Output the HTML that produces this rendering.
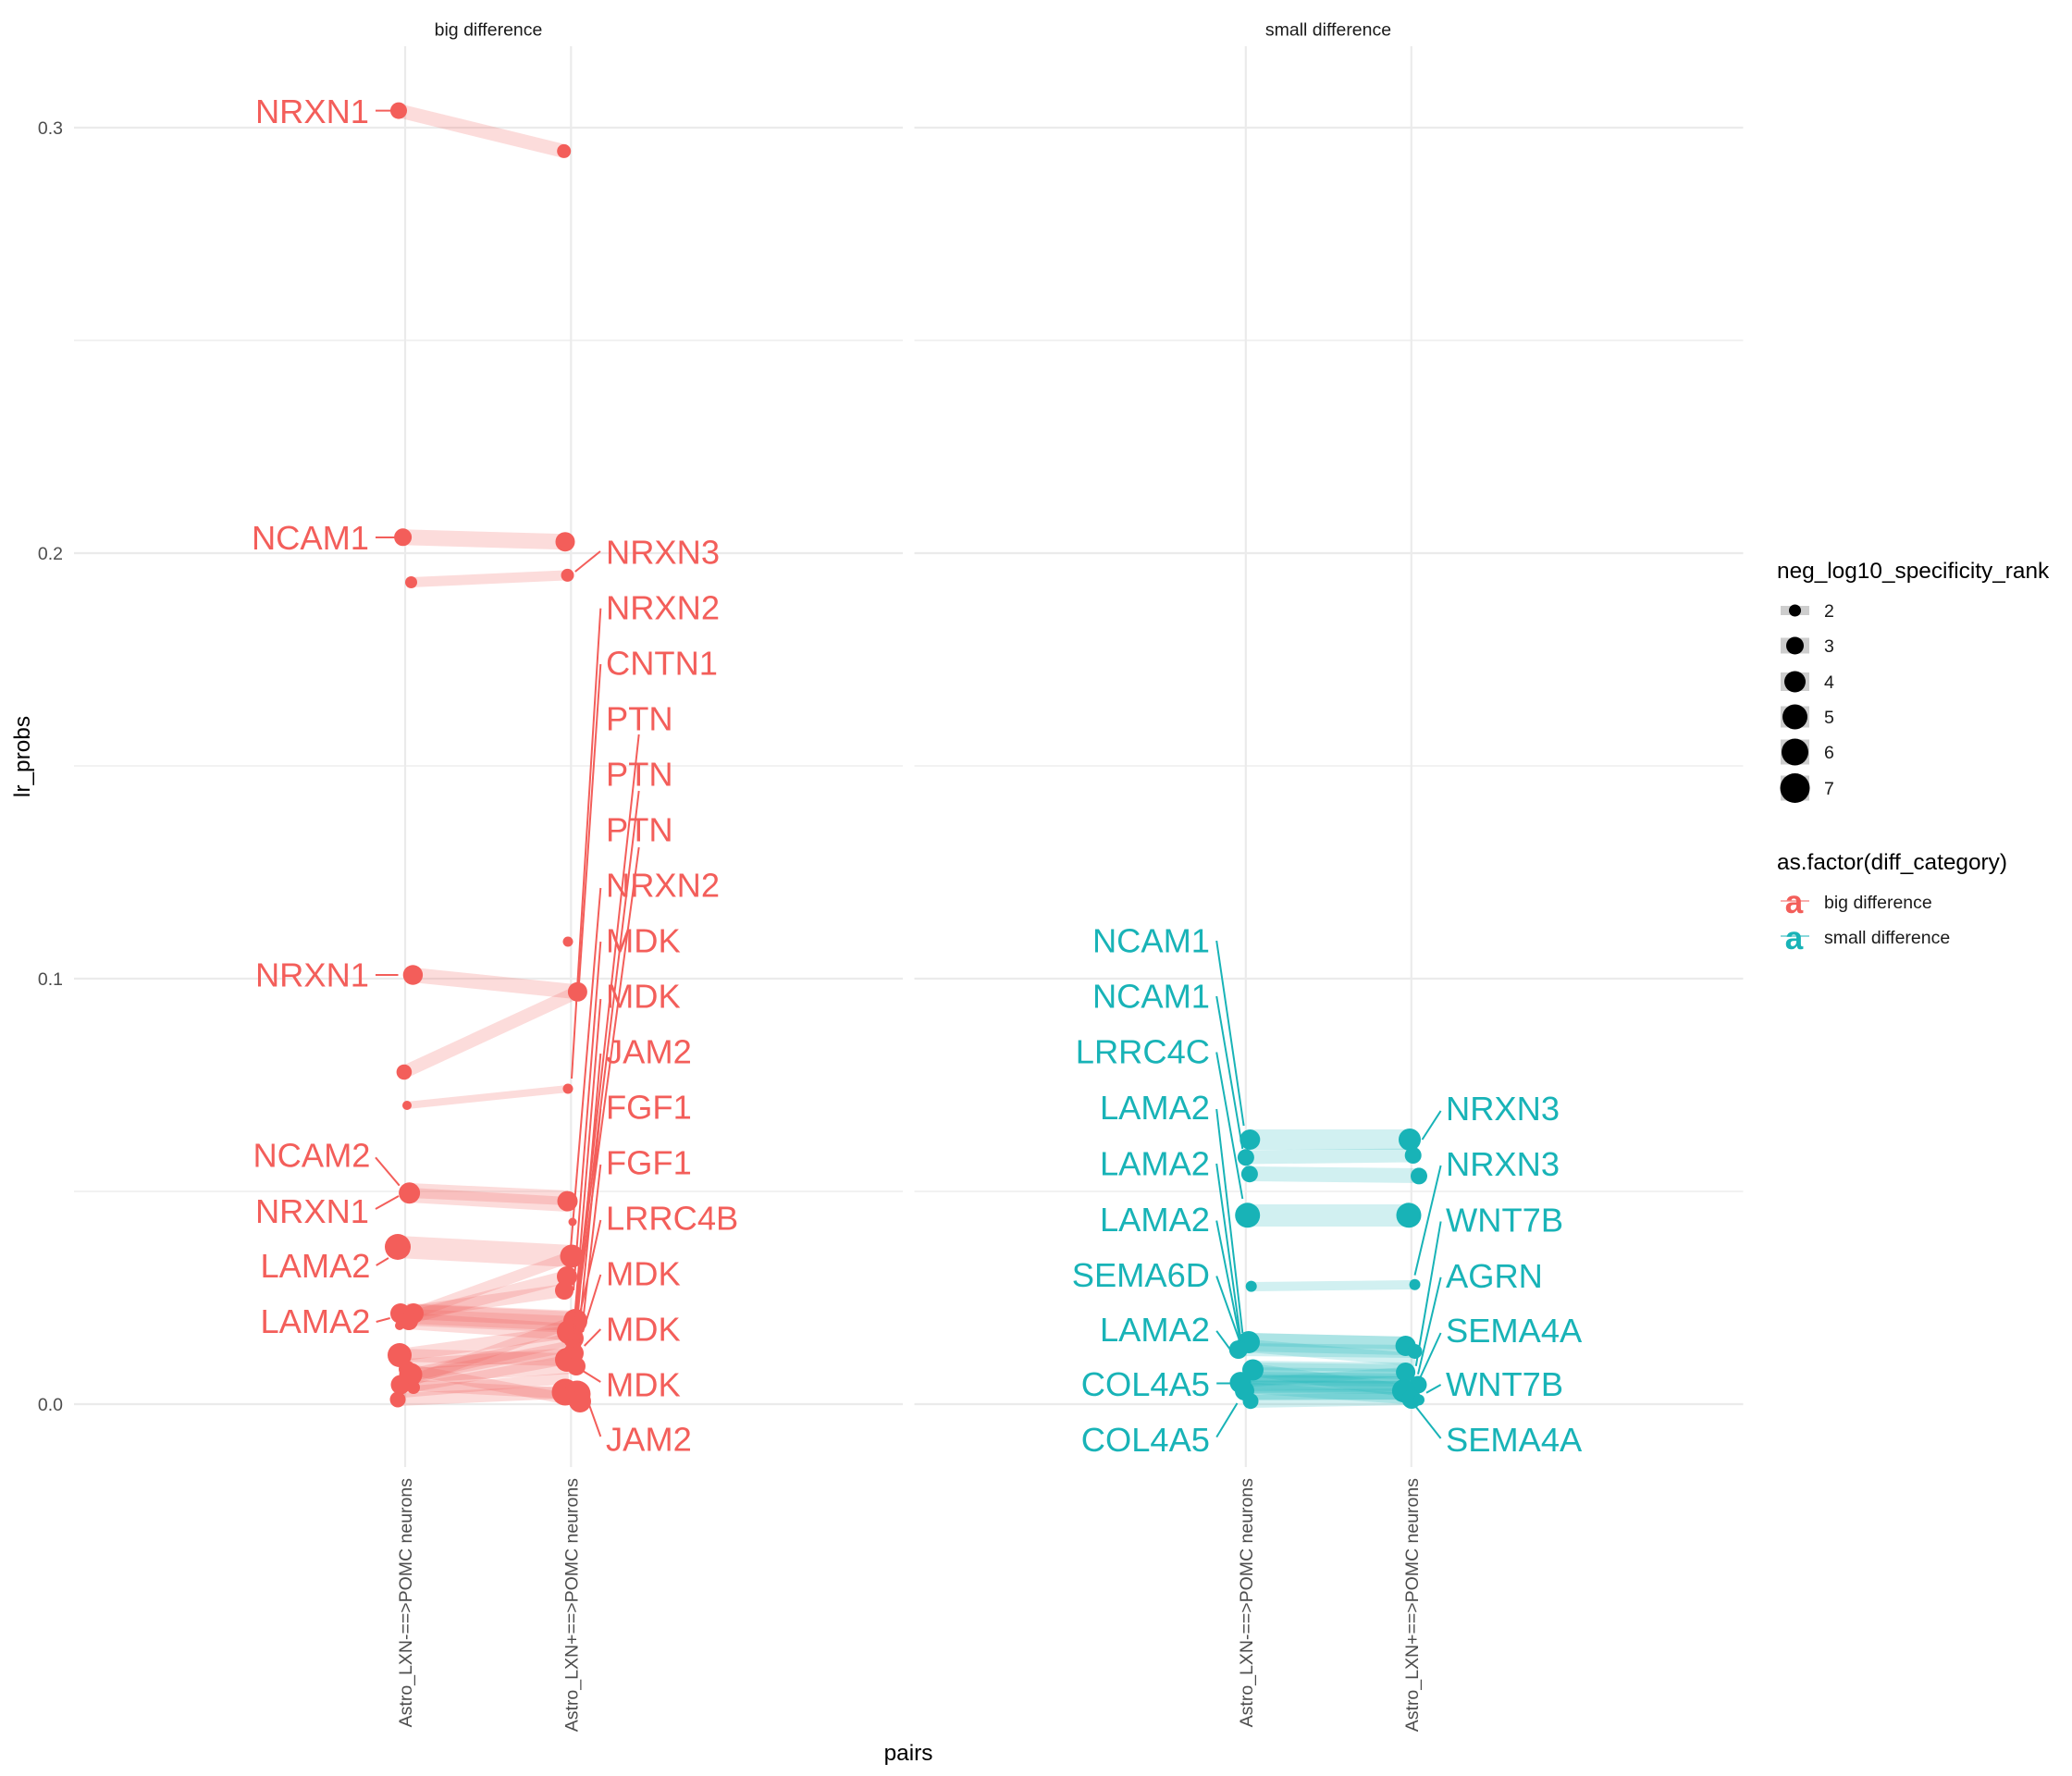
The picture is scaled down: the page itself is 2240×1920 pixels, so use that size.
<!DOCTYPE html>
<html><head><meta charset="utf-8"><style>
html,body{margin:0;padding:0;background:#fff;}
svg{display:block;}
text{font-family:"Liberation Sans",Arial,sans-serif;}
</style></head><body>
<svg width="2240" height="1920" viewBox="0 0 2240 1920" xmlns="http://www.w3.org/2000/svg">
<rect width="2240" height="1920" fill="#fff"/>
<!-- grid -->
<g stroke="#EBEBEB" fill="none">
  <g stroke-width="1.2">
    <line x1="80" y1="368" x2="976" y2="368"/><line x1="80" y1="828" x2="976" y2="828"/><line x1="80" y1="1288" x2="976" y2="1288"/>
    <line x1="988.5" y1="368" x2="1884.5" y2="368"/><line x1="988.5" y1="828" x2="1884.5" y2="828"/><line x1="988.5" y1="1288" x2="1884.5" y2="1288"/>
  </g>
  <g stroke-width="2.2">
    <line x1="80" y1="138" x2="976" y2="138"/><line x1="80" y1="598" x2="976" y2="598"/><line x1="80" y1="1058" x2="976" y2="1058"/><line x1="80" y1="1518" x2="976" y2="1518"/>
    <line x1="988.5" y1="138" x2="1884.5" y2="138"/><line x1="988.5" y1="598" x2="1884.5" y2="598"/><line x1="988.5" y1="1058" x2="1884.5" y2="1058"/><line x1="988.5" y1="1518" x2="1884.5" y2="1518"/>
    <line x1="438" y1="50" x2="438" y2="1586"/><line x1="617.3" y1="50" x2="617.3" y2="1586"/>
    <line x1="1346.8" y1="50" x2="1346.8" y2="1586"/><line x1="1525.8" y1="50" x2="1525.8" y2="1586"/>
  </g>
</g>
<!-- strip titles -->
<g font-size="19.5" fill="#1A1A1A" text-anchor="middle">
  <text x="528" y="38.3">big difference</text>
  <text x="1436" y="38.3">small difference</text>
</g>
<!-- y ticks -->
<g font-size="19.5" fill="#4D4D4D" text-anchor="end">
  <text x="68" y="145">0.3</text><text x="68" y="605">0.2</text><text x="68" y="1065">0.1</text><text x="68" y="1525">0.0</text>
</g>
<!-- x ticks -->
<g font-size="19.5" fill="#4D4D4D" text-anchor="end">
  <text transform="translate(445,1598) rotate(-90)">Astro_LXN-==&gt;POMC neurons</text>
  <text transform="translate(624.3,1598) rotate(-90)">Astro_LXN+==&gt;POMC neurons</text>
  <text transform="translate(1353.8,1598) rotate(-90)">Astro_LXN-==&gt;POMC neurons</text>
  <text transform="translate(1532.8,1598) rotate(-90)">Astro_LXN+==&gt;POMC neurons</text>
</g>
<!-- axis titles -->
<text x="982" y="1903" font-size="24.4" fill="#000" text-anchor="middle">pairs</text>
<text transform="translate(32,818) rotate(-90)" font-size="24.4" fill="#000" text-anchor="middle">lr_probs</text>

<!-- PANEL 1 bands -->
<g stroke="#F35E5A" stroke-opacity="0.22" fill="none" stroke-linecap="butt">
  <line x1="431" y1="119.6" x2="609.7" y2="163.4" stroke-width="15"/>
  <line x1="435.6" y1="580.8" x2="611" y2="585.7" stroke-width="17"/>
  <line x1="444.5" y1="629.5" x2="613.5" y2="621.9" stroke-width="11"/>
  <line x1="446.4" y1="1054" x2="624.4" y2="1072.3" stroke-width="16"/>
  <line x1="436.9" y1="1159" x2="624.4" y2="1072.3" stroke-width="14"/>
  <line x1="440" y1="1195" x2="614" y2="1177" stroke-width="8"/>
  <line x1="442.6" y1="1287" x2="613.5" y2="1295" stroke-width="16"/>
  <line x1="442.6" y1="1292" x2="613.5" y2="1302" stroke-width="16"/>
  <line x1="430" y1="1348" x2="618" y2="1358" stroke-width="24"/>
  <line x1="433" y1="1420" x2="610" y2="1395" stroke-width="14"/>
  <line x1="440" y1="1425" x2="613" y2="1380" stroke-width="14"/>
  <line x1="447" y1="1420" x2="618" y2="1358" stroke-width="12"/>
  <line x1="440" y1="1420" x2="622" y2="1428" stroke-width="22"/>
  <line x1="440" y1="1424" x2="622" y2="1432" stroke-width="18"/>
  <line x1="440" y1="1418" x2="620" y2="1426" stroke-width="16"/>
  <line x1="440" y1="1428" x2="615" y2="1440" stroke-width="18"/>
  <line x1="432" y1="1465" x2="613" y2="1470" stroke-width="14"/>
  <line x1="443" y1="1487" x2="620" y2="1447" stroke-width="14"/>
  <line x1="433" y1="1497" x2="622" y2="1428" stroke-width="12"/>
  <line x1="447" y1="1500" x2="613" y2="1470" stroke-width="10"/>
  <line x1="430" y1="1513" x2="610" y2="1505" stroke-width="14"/>
  <line x1="443" y1="1487" x2="623" y2="1477" stroke-width="16"/>
  <line x1="433" y1="1497" x2="623" y2="1507" stroke-width="12"/>
  <line x1="432" y1="1465" x2="615" y2="1440" stroke-width="14"/>
  <line x1="440" y1="1480" x2="627" y2="1515" stroke-width="12"/>
  <line x1="440" y1="1475" x2="620" y2="1463" stroke-width="12"/>
  <line x1="438" y1="1490" x2="618" y2="1455" stroke-width="12"/>
  <line x1="436" y1="1505" x2="615" y2="1490" stroke-width="12"/>
</g>
<!-- PANEL 1 points -->
<g fill="#F35E5A">
  <circle cx="431" cy="119.6" r="9"/><circle cx="609.7" cy="163.4" r="7.5"/>
  <circle cx="435.6" cy="580.8" r="9.5"/><circle cx="611" cy="585.7" r="10.5"/>
  <circle cx="444.5" cy="629.5" r="6.5"/><circle cx="613.5" cy="621.9" r="7"/>
  <circle cx="614" cy="1018" r="5.5"/>
  <circle cx="446.4" cy="1054" r="10.7"/><circle cx="624.4" cy="1072.3" r="10.5"/>
  <circle cx="436.9" cy="1159" r="8.3"/>
  <circle cx="440" cy="1195" r="5"/><circle cx="614" cy="1177" r="5.5"/>
  <circle cx="442.6" cy="1289.7" r="11.5"/><circle cx="613.5" cy="1298.6" r="11"/>
  <circle cx="619" cy="1321" r="4.5"/>
  <circle cx="430" cy="1348" r="14"/>
  <circle cx="618" cy="1358" r="12.5"/><circle cx="613" cy="1380" r="11"/><circle cx="610" cy="1395" r="10"/>
  <circle cx="622" cy="1428" r="13"/><circle cx="615" cy="1440" r="13"/><circle cx="620" cy="1447" r="11"/>
  <circle cx="613" cy="1470" r="13"/><circle cx="620" cy="1463" r="11"/><circle cx="623" cy="1477" r="10"/>
  <circle cx="611" cy="1505" r="14.5"/><circle cx="624" cy="1507" r="14.5"/><circle cx="627" cy="1515" r="12"/>
  <circle cx="433" cy="1420" r="11"/><circle cx="447" cy="1420" r="11"/><circle cx="442" cy="1428" r="10"/>
  <circle cx="432" cy="1433" r="5"/><circle cx="443" cy="1432" r="5"/>
  <circle cx="432" cy="1465" r="13"/><circle cx="444" cy="1486" r="12.5"/><circle cx="433" cy="1497" r="10.5"/>
  <circle cx="447" cy="1500" r="7"/><circle cx="430" cy="1513" r="8.5"/><circle cx="440" cy="1480" r="9"/>
</g>
<!-- PANEL 1 connectors -->
<g stroke="#F35E5A" stroke-width="2" fill="none">
  <line x1="406" y1="119.6" x2="424" y2="119.6"/>
  <line x1="406" y1="581" x2="427" y2="581"/>
  <line x1="406" y1="1054" x2="430.5" y2="1054"/>
  <line x1="406" y1="1251.3" x2="431.8" y2="1281.7"/>
  <line x1="406" y1="1307" x2="431" y2="1293"/>
  <line x1="406.7" y1="1368" x2="420" y2="1360"/>
  <line x1="406.7" y1="1429" x2="421.7" y2="1425"/>
  <line x1="621.8" y1="618" x2="649" y2="596"/>
  <line x1="649.3" y1="657.7" x2="618" y2="1166"/>
  <line x1="649.3" y1="718" x2="626" y2="1063"/>
  <line x1="690.7" y1="794" x2="622" y2="1420"/>
  <line x1="690.7" y1="855" x2="620" y2="1440"/>
  <line x1="690.7" y1="916" x2="618" y2="1460"/>
  <line x1="649.3" y1="960" x2="617" y2="1350"/>
  <line x1="649.3" y1="1018" x2="620" y2="1395"/>
  <line x1="649.3" y1="1080" x2="622" y2="1415"/>
  <line x1="649.3" y1="1139" x2="624" y2="1430"/>
  <line x1="649.3" y1="1199" x2="625" y2="1450"/>
  <line x1="649.3" y1="1259" x2="626" y2="1465"/>
  <line x1="649.3" y1="1319" x2="627" y2="1420"/>
  <line x1="649.3" y1="1378" x2="630" y2="1440"/>
  <line x1="649.3" y1="1437" x2="631.7" y2="1455"/>
  <line x1="649.3" y1="1494" x2="630" y2="1482"/>
  <line x1="649.3" y1="1553" x2="636.7" y2="1518"/>
</g>
<!-- PANEL 1 labels -->
<g font-size="36.3" fill="#F35E5A">
  <g text-anchor="end">
    <text x="399" y="133">NRXN1</text>
    <text x="399" y="594">NCAM1</text>
    <text x="399" y="1066.5">NRXN1</text>
    <text x="400.5" y="1261.6">NCAM2</text>
    <text x="399" y="1322">NRXN1</text>
    <text x="400.5" y="1381">LAMA2</text>
    <text x="400.5" y="1441">LAMA2</text>
  </g>
  <g text-anchor="start">
    <text x="655" y="609.5">NRXN3</text>
    <text x="655" y="669.5">NRXN2</text>
    <text x="655" y="729.5">CNTN1</text>
    <text x="655" y="789.5">PTN</text>
    <text x="655" y="849.5">PTN</text>
    <text x="655" y="909.5">PTN</text>
    <text x="655" y="969.5">NRXN2</text>
    <text x="655" y="1029.5">MDK</text>
    <text x="655" y="1089.5">MDK</text>
    <text x="655" y="1149.5">JAM2</text>
    <text x="655" y="1209.5">FGF1</text>
    <text x="655" y="1269.5">FGF1</text>
    <text x="655" y="1329.5">LRRC4B</text>
    <text x="655" y="1389.5">MDK</text>
    <text x="655" y="1449.5">MDK</text>
    <text x="655" y="1509.5">MDK</text>
    <text x="655" y="1568.5">JAM2</text>
  </g>
</g>

<!-- PANEL 2 bands -->
<g stroke="#18B3B7" stroke-opacity="0.2" fill="none" stroke-linecap="butt">
  <line x1="1351" y1="1232" x2="1524" y2="1232" stroke-width="22"/>
  <line x1="1347" y1="1251" x2="1528" y2="1249" stroke-width="15"/>
  <line x1="1351" y1="1269" x2="1534" y2="1271" stroke-width="16"/>
  <line x1="1349" y1="1314" x2="1523" y2="1314" stroke-width="24"/>
  <line x1="1353" y1="1391" x2="1530" y2="1389" stroke-width="10"/>
  <line x1="1350" y1="1451" x2="1520" y2="1455" stroke-width="20"/>
  <line x1="1339" y1="1459" x2="1530" y2="1461" stroke-width="14"/>
  <line x1="1350" y1="1455" x2="1530" y2="1470" stroke-width="14"/>
  <line x1="1350" y1="1448" x2="1522" y2="1452" stroke-width="14"/>
  <line x1="1354" y1="1481" x2="1520" y2="1483" stroke-width="16"/>
  <line x1="1341" y1="1495" x2="1533" y2="1497" stroke-width="18"/>
  <line x1="1345" y1="1503" x2="1517" y2="1503" stroke-width="20"/>
  <line x1="1352" y1="1515" x2="1526" y2="1512" stroke-width="14"/>
  <line x1="1345" y1="1500" x2="1534" y2="1513" stroke-width="12"/>
  <line x1="1354" y1="1481" x2="1517" y2="1503" stroke-width="14"/>
  <line x1="1341" y1="1495" x2="1520" y2="1483" stroke-width="10"/>
  <line x1="1345" y1="1490" x2="1525" y2="1492" stroke-width="14"/>
  <line x1="1345" y1="1486" x2="1522" y2="1488" stroke-width="16"/>
  <line x1="1348" y1="1494" x2="1525" y2="1496" stroke-width="16"/>
  <line x1="1345" y1="1499" x2="1528" y2="1500" stroke-width="14"/>
  <line x1="1350" y1="1508" x2="1530" y2="1507" stroke-width="12"/>
  <line x1="1348" y1="1476" x2="1522" y2="1478" stroke-width="10"/>
</g>
<!-- PANEL 2 points -->
<g fill="#18B3B7">
  <circle cx="1351.3" cy="1232" r="11"/><circle cx="1346.9" cy="1251.3" r="9"/><circle cx="1350.9" cy="1269.2" r="9"/>
  <circle cx="1348.7" cy="1313.8" r="13.5"/><circle cx="1352.7" cy="1390.6" r="6"/>
  <circle cx="1350" cy="1451" r="12"/><circle cx="1338.8" cy="1459" r="10"/>
  <circle cx="1354.5" cy="1481" r="11.5"/><circle cx="1341" cy="1494.6" r="11.5"/><circle cx="1345.5" cy="1503.6" r="10.5"/><circle cx="1352" cy="1514.7" r="8.5"/>
  <circle cx="1524" cy="1232" r="12"/><circle cx="1527.7" cy="1249" r="9"/><circle cx="1534" cy="1271.4" r="9"/>
  <circle cx="1523" cy="1313.8" r="13.5"/><circle cx="1529.5" cy="1388.8" r="6"/>
  <circle cx="1519.6" cy="1455" r="11"/><circle cx="1529.5" cy="1461" r="8"/>
  <circle cx="1519.6" cy="1483.5" r="10.5"/><circle cx="1533" cy="1497" r="9.5"/><circle cx="1517.4" cy="1503.6" r="12.5"/>
  <circle cx="1526" cy="1512.5" r="10.5"/><circle cx="1534" cy="1513.4" r="6"/>
</g>
<!-- PANEL 2 connectors -->
<g stroke="#18B3B7" stroke-width="2" fill="none">
  <line x1="1315.2" y1="1017" x2="1344.6" y2="1217"/>
  <line x1="1315.2" y1="1077" x2="1343.3" y2="1242"/>
  <line x1="1315.2" y1="1137.5" x2="1343.3" y2="1296"/>
  <line x1="1315.2" y1="1199" x2="1343.3" y2="1441"/>
  <line x1="1315.2" y1="1258" x2="1341" y2="1445.5"/>
  <line x1="1315.2" y1="1319.6" x2="1341" y2="1450"/>
  <line x1="1315.2" y1="1379.5" x2="1341" y2="1452"/>
  <line x1="1315.2" y1="1438.8" x2="1336.6" y2="1468"/>
  <line x1="1315.2" y1="1495.5" x2="1330" y2="1495.5"/>
  <line x1="1315.2" y1="1553.6" x2="1337.5" y2="1517"/>
  <line x1="1557.6" y1="1200.9" x2="1537.5" y2="1232"/>
  <line x1="1557.6" y1="1260" x2="1529.5" y2="1378.6"/>
  <line x1="1557.6" y1="1320.5" x2="1530.8" y2="1476.8"/>
  <line x1="1557.6" y1="1380.8" x2="1533" y2="1485.7"/>
  <line x1="1557.6" y1="1441" x2="1535" y2="1490"/>
  <line x1="1557.6" y1="1497" x2="1542" y2="1505.8"/>
  <line x1="1557.6" y1="1555" x2="1530.8" y2="1521"/>
</g>
<!-- PANEL 2 labels -->
<g font-size="36.3" fill="#18B3B7">
  <g text-anchor="end">
    <text x="1308" y="1029.5">NCAM1</text>
    <text x="1308" y="1089.5">NCAM1</text>
    <text x="1308" y="1149.5">LRRC4C</text>
    <text x="1308" y="1210">LAMA2</text>
    <text x="1308" y="1270.5">LAMA2</text>
    <text x="1308" y="1330.8">LAMA2</text>
    <text x="1308" y="1391">SEMA6D</text>
    <text x="1308" y="1450">LAMA2</text>
    <text x="1308" y="1509">COL4A5</text>
    <text x="1308" y="1569">COL4A5</text>
  </g>
  <g text-anchor="start">
    <text x="1563" y="1211">NRXN3</text>
    <text x="1563" y="1271">NRXN3</text>
    <text x="1563" y="1331.5">WNT7B</text>
    <text x="1563" y="1392">AGRN</text>
    <text x="1563" y="1451">SEMA4A</text>
    <text x="1563" y="1509">WNT7B</text>
    <text x="1563" y="1569">SEMA4A</text>
  </g>
</g>

<!-- LEGEND -->
<text x="1921" y="625" font-size="24.4" fill="#000">neg_log10_specificity_rank</text>
<g fill="#CDCDCD">
  <rect x="1925" y="655" width="31" height="10"/>
  <rect x="1925" y="689.5" width="31" height="17"/>
  <rect x="1925" y="727" width="31" height="20"/>
  <rect x="1925" y="763.5" width="31" height="23"/>
  <rect x="1925" y="799.5" width="31" height="27"/>
  <rect x="1925" y="838.5" width="31" height="27"/>
</g>
<g fill="#000">
  <circle cx="1940.5" cy="660" r="6.5"/>
  <circle cx="1940.5" cy="698" r="9.5"/>
  <circle cx="1940.5" cy="737" r="11.5"/>
  <circle cx="1940.5" cy="775" r="13.5"/>
  <circle cx="1940.5" cy="813" r="14.5"/>
  <circle cx="1940.5" cy="852" r="16"/>
</g>
<g font-size="19.5" fill="#1A1A1A">
  <text x="1972" y="667">2</text>
  <text x="1972" y="705">3</text>
  <text x="1972" y="744">4</text>
  <text x="1972" y="782">5</text>
  <text x="1972" y="820">6</text>
  <text x="1972" y="859">7</text>
</g>
<text x="1921" y="940" font-size="24.4" fill="#000">as.factor(diff_category)</text>
<line x1="1925" y1="974" x2="1956" y2="974" stroke="#F35E5A" stroke-opacity="0.5" stroke-width="2"/>
<text x="1939.5" y="987" font-size="35" font-weight="bold" fill="#F35E5A" text-anchor="middle">a</text>
<line x1="1925" y1="1012" x2="1956" y2="1012" stroke="#18B3B7" stroke-opacity="0.5" stroke-width="2"/>
<text x="1939.5" y="1026" font-size="35" font-weight="bold" fill="#18B3B7" text-anchor="middle">a</text>
<g font-size="19.5" fill="#1A1A1A">
  <text x="1972" y="982">big difference</text>
  <text x="1972" y="1020">small difference</text>
</g>
</svg>
</body></html>
